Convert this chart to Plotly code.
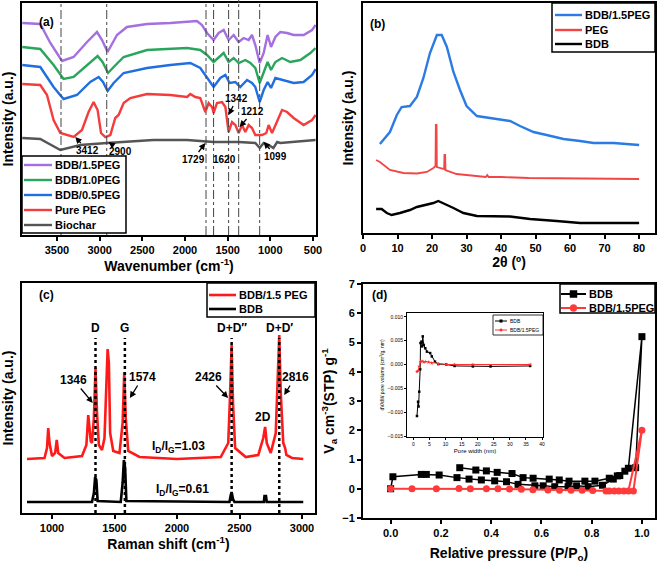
import plotly.graph_objects as go

W, H = 661, 565
FONT = "Liberation Sans"

# ---------------- (a) FTIR ----------------
ftir_15_wn = [3907, 3696, 3578, 3441, 3305, 3148, 3031, 2972, 2907, 2797, 2680, 2445, 2172, 1938, 1860, 1801, 1742, 1665, 1606, 1547, 1489, 1430, 1371, 1313, 1254, 1215, 1176, 1125, 1078, 1032, 992, 941, 883, 804, 727, 610, 511, 470]
ftir_15_i = [212, 211, 192, 174, 178, 193, 203, 195, 183, 200, 208, 211, 212, 213, 214, 210, 202, 195, 202, 205, 195, 200, 193, 197, 195, 200, 190, 172, 182, 200, 188, 198, 203, 202, 200, 200, 205, 210]

ftir_10_wn = [3907, 3696, 3540, 3423, 3305, 3148, 3024, 2966, 2902, 2836, 2719, 2445, 1976, 1821, 1742, 1665, 1606, 1547, 1489, 1430, 1371, 1293, 1234, 1176, 1125, 1078, 1032, 992, 941, 863, 766, 648, 531, 470]
ftir_10_i = [188, 186, 170, 156, 158, 170, 179, 173, 162, 168, 178, 185, 187, 185, 180, 173, 178, 182, 173, 177, 172, 175, 172, 167, 152, 162, 173, 165, 173, 177, 173, 175, 182, 187]

ftir_05_wn = [3907, 3696, 3540, 3423, 3266, 3110, 3012, 2961, 2907, 2836, 2719, 2445, 2172, 1938, 1821, 1742, 1665, 1586, 1527, 1477, 1410, 1352, 1273, 1215, 1176, 1125, 1078, 1032, 992, 941, 844, 727, 610, 511, 470]
ftir_05_i = [170, 168, 148, 136, 140, 153, 158, 153, 144, 152, 162, 167, 170, 172, 167, 158, 148, 157, 160, 152, 153, 148, 155, 152, 148, 133, 145, 153, 147, 157, 155, 152, 153, 160, 166]

ftir_peg_wn = [3907, 3696, 3617, 3540, 3461, 3305, 3207, 3130, 3071, 3024, 2984, 2934, 2875, 2817, 2778, 2719, 2641, 2445, 2172, 1976, 1938, 1879, 1821, 1762, 1723, 1683, 1665, 1625, 1566, 1527, 1489, 1449, 1410, 1371, 1332, 1293, 1254, 1215, 1176, 1097, 1047, 1020, 980, 921, 863, 804, 727, 610, 511, 470]
ftir_peg_i = [151, 150, 140, 115, 102, 98, 105, 123, 133, 125, 102, 98, 100, 117, 120, 132, 137, 141, 140, 138, 141, 138, 137, 123, 132, 128, 122, 132, 133, 128, 103, 113, 110, 102, 110, 103, 110, 107, 100, 100, 102, 110, 102, 113, 125, 123, 117, 110, 115, 120]

ftir_bc_wn = [3907, 3696, 3461, 3227, 2914, 2371, 1976, 1665, 1371, 1176, 1125, 1078, 1020, 964, 920, 883, 470]
ftir_bc_i = [97, 96, 85, 90, 92, 95, 95, 93, 93, 92, 87, 92, 90, 87, 93, 92, 95]

ftir_names = ["BDB/1.5PEG", "BDB/1.0PEG", "BDB/0.5PEG", "Pure PEG", "Biochar"]
ftir_colors = ["#a46fe0", "#2aa55c", "#1f6fe0", "#f43c3c", "#555555"]
ftir_guides = [3453, 2917, 1754, 1665, 1489, 1371, 1125]
ftir_ticks = [3500, 3000, 2500, 2000, 1500, 1000, 500]

# ---------------- (b) XRD ----------------
xrd_peg15_t = [4.9, 7.8, 9.8, 11.2, 13.6, 15.6, 17.5, 19.4, 21.4, 22.8, 24.3, 26.2, 28.1, 30, 33, 36.8, 40.7, 42.6, 45.5, 49.4, 53.2, 58.1, 62.9, 66.8, 72.6, 77.4, 80]
xrd_peg15_i = [89, 101, 118, 126, 127, 136, 155, 180, 198, 198, 186, 161, 143, 127, 117, 115, 113, 112, 107, 101, 98, 94, 92, 90, 90, 89, 88]
xrd_peg_t = [3.8, 4.9, 7.8, 11.7, 15.6, 18.5, 20.4, 21.0, 21.1, 21.3, 21.4, 23.3, 23.5, 23.6, 23.8, 23.9, 27.1, 35.6, 36.0, 36.4, 40.2, 48, 80]
xrd_peg_i = [73, 71, 63, 60, 59.5, 61, 65, 67, 108, 108, 66, 64, 64, 78, 78, 63, 59, 56, 58, 56, 56, 55, 54]
xrd_bdb_t = [3.8, 5.4, 6.9, 8.3, 10.7, 13.6, 15.6, 18.5, 20.4, 21.8, 23.8, 26.2, 29.1, 33, 42.6, 48.4, 56.1, 62.9, 80]
xrd_bdb_i = [24, 24, 20, 18, 20, 23, 26, 28, 30, 32, 29, 25, 20, 17, 16.5, 14, 12, 10, 10]
xrd_names = ["BDB/1.5PEG", "PEG", "BDB"]
xrd_colors = ["#2a7be4", "#f24545", "#000000"]
xrd_ticks = [0, 10, 20, 30, 40, 50, 60, 70, 80]

# ---------------- (c) Raman ----------------
raman_peg_x = [800, 940, 960, 970, 980, 1000, 1025, 1038, 1050, 1100, 1240, 1275, 1290, 1300, 1310, 1320, 1335, 1348, 1360, 1375, 1400, 1420, 1435, 1445, 1455, 1465, 1490, 1540, 1565, 1578, 1590, 1610, 1700, 2000, 2350, 2410, 2425, 2437, 2448, 2465, 2550, 2650, 2690, 2705, 2718, 2750, 2790, 2805, 2818, 2830, 2850, 2865, 2875, 2920, 3010]
raman_peg_i = [54, 55, 65, 85, 70, 57, 60, 73, 60, 55, 57, 68, 98, 80, 72, 70, 95, 145, 100, 68, 63, 75, 140, 164, 150, 80, 62, 60, 90, 141, 95, 62, 56, 54, 56, 70, 120, 168, 110, 65, 56, 58, 75, 86, 70, 60, 80, 130, 178, 120, 70, 65, 58, 55, 54]
raman_bdb_x = [800, 1320, 1335, 1345, 1355, 1365, 1550, 1565, 1575, 1585, 1595, 2420, 2430, 2437, 2448, 2460, 2695, 2700, 2712, 2718, 3010]
raman_bdb_i = [11, 11, 20, 36, 33, 12, 11, 30, 53, 45, 12, 11, 18, 21, 14, 11, 11, 17, 17, 11, 11]
raman_names = ["BDB/1.5 PEG", "BDB"]
raman_colors = ["#ff1a1a", "#000000"]
raman_bands = [1348, 1583, 2437, 2818]
raman_band_names = ["D", "G", "D+D\u2033", "D+D\u2032"]
raman_ticks = [1000, 1500, 2000, 2500, 3000]

# ---------------- (d) N2 isotherm ----------------
bet_bdb_p = [0.0, 0.009, 0.122, 0.142, 0.193, 0.264, 0.312, 0.361, 0.414, 0.461, 0.507, 0.574, 0.607, 0.653, 0.706, 0.740, 0.786, 0.843, 0.886, 0.912, 0.946, 1.0,
             0.975, 0.932, 0.902, 0.870, 0.813, 0.773, 0.710, 0.671, 0.631, 0.567, 0.527, 0.483, 0.424, 0.381, 0.339, 0.275]
bet_bdb_v = [0.0, 0.41, 0.49, 0.49, 0.47, 0.38, 0.33, 0.30, 0.27, 0.24, 0.15, 0.10, 0.10, 0.07, 0.07, 0.10, 0.07, 0.12, 0.33, 0.45, 0.70, 5.2,
             0.72, 0.60, 0.44, 0.36, 0.26, 0.26, 0.26, 0.30, 0.33, 0.36, 0.38, 0.52, 0.56, 0.61, 0.64, 0.72]
bet_peg_p = [0.0, 0.085, 0.182, 0.272, 0.317, 0.381, 0.427, 0.473, 0.52, 0.566, 0.626, 0.672, 0.718, 0.762, 0.804, 0.857, 0.870, 0.89, 0.908, 0.928, 0.946, 1.0, 0.966]
bet_peg_v = [0.0, 0.0, 0.0, 0.01, 0.0, 0.0, 0.0, -0.01, -0.02, -0.03, -0.04, -0.05, -0.05, -0.05, -0.06, -0.08, -0.08, -0.08, -0.08, -0.08, -0.08, 2.0, -0.08]
bet_names = ["BDB", "BDB/1.5PEG"]
bet_colors = ["#000000", "#ff3a3a"]
bet_xticks = [0.0, 0.2, 0.4, 0.6, 0.8, 1.0]
bet_yticks = [-1, 0, 1, 2, 3, 4, 5, 6, 7]

pore_bdb_w = [1.1, 1.45, 1.6, 1.8, 2.1, 2.2, 2.5, 2.7, 2.9, 3.2, 3.7, 4.2, 5.2, 5.7, 6.7, 7.7, 10.2, 12.8, 18.5, 24.0, 36.3]
pore_bdb_v = [-0.0108, -0.0078, -0.0088, -0.0057, -0.001, 0.0045, 0.0048, 0.0038, 0.0059, 0.0041, 0.0034, 0.0027, 0.0024, 0.0017, 0.0006, 0.0001, 0.0, -0.0003, -0.0004, -0.0004, -0.0003]
pore_peg_w = [1.1, 1.45, 1.8, 2.2, 2.7, 3.2, 3.7, 4.7, 5.7, 7.7, 10.2, 12.8, 18.5, 36.3]
pore_peg_v = [-0.0015, -0.0013, -0.0004, 0.0006, 0.0007, 0.0005, 0.0006, 0.0005, 0.0003, 0.0001, 0.0, 0.0, 0.0, 0.0]
pore_xticks = [0, 5, 10, 15, 20, 25, 30, 35, 40]
pore_yticks = [0.010, 0.005, 0.000, -0.005, -0.010, -0.015]


def px_x(p):
    return p / W


def px_y(p):
    return 1 - p / H


fig = go.Figure()

# (a)
for wn, it, nm, col in zip([ftir_15_wn, ftir_10_wn, ftir_05_wn, ftir_peg_wn, ftir_bc_wn],
                           [ftir_15_i, ftir_10_i, ftir_05_i, ftir_peg_i, ftir_bc_i],
                           ftir_names, ftir_colors):
    fig.add_trace(go.Scatter(x=wn, y=it, mode="lines", name=nm, line=dict(color=col, width=2.4),
                             xaxis="x", yaxis="y"))

# (b)
for t, it, nm, col, wd in zip([xrd_peg15_t, xrd_peg_t, xrd_bdb_t], [xrd_peg15_i, xrd_peg_i, xrd_bdb_i],
                              xrd_names, xrd_colors, [2.4, 1.8, 2.4]):
    fig.add_trace(go.Scatter(x=t, y=it, mode="lines", name=nm, line=dict(color=col, width=wd),
                             xaxis="x2", yaxis="y2"))

# (c)
for rx, it, nm, col in zip([raman_peg_x, raman_bdb_x], [raman_peg_i, raman_bdb_i], raman_names, raman_colors):
    fig.add_trace(go.Scatter(x=rx, y=it, mode="lines", name=nm, line=dict(color=col, width=2.6),
                             xaxis="x3", yaxis="y3"))

# (d)
fig.add_trace(go.Scatter(x=bet_bdb_p, y=bet_bdb_v, mode="lines+markers", name=bet_names[0],
                         line=dict(color=bet_colors[0], width=1.5), marker=dict(symbol="square", size=7, color=bet_colors[0]),
                         xaxis="x4", yaxis="y4"))
fig.add_trace(go.Scatter(x=bet_peg_p, y=bet_peg_v, mode="lines+markers", name=bet_names[1],
                         line=dict(color=bet_colors[1], width=2), marker=dict(symbol="circle", size=7, color=bet_colors[1]),
                         xaxis="x4", yaxis="y4"))

# inset
fig.add_trace(go.Scatter(x=pore_bdb_w, y=pore_bdb_v, mode="lines+markers", name=bet_names[0],
                         line=dict(color="black", width=1), marker=dict(symbol="square", size=2.5, color="black"),
                         xaxis="x5", yaxis="y5"))
fig.add_trace(go.Scatter(x=pore_peg_w, y=pore_peg_v, mode="lines+markers", name=bet_names[1],
                         line=dict(color="#ff3030", width=1), marker=dict(symbol="star", size=3, color="#ff3030"),
                         xaxis="x5", yaxis="y5"))

tickfont = dict(family=FONT, size=11, color="black", weight="bold")
titlefont = dict(family=FONT, size=14, color="black", weight="bold")
base = dict(showline=True, linewidth=2, linecolor="black", mirror=True, showgrid=False, zeroline=False,
            ticks="outside", ticklen=4, tickwidth=1.5, tickcolor="black", tickfont=tickfont, automargin=False)
noy = dict(base, ticks="", showticklabels=False)
small = dict(showline=True, linewidth=1, linecolor="black", mirror=True, showgrid=False, zeroline=False,
             ticks="outside", ticklen=2, tickwidth=0.8, tickcolor="black", automargin=False,
             tickfont=dict(family=FONT, size=5, color="black"))

layout = dict(
    width=W, height=H, margin=dict(l=0, r=0, t=0, b=0, autoexpand=False), showlegend=False,
    paper_bgcolor="white", plot_bgcolor="white",
    xaxis=dict(base, domain=[px_x(22), px_x(316)], range=[3910, 465], anchor="y", tickvals=ftir_ticks,
               title=dict(text="Wavenumber (cm<sup>-1</sup>)", font=titlefont, standoff=2)),
    yaxis=dict(noy, domain=[px_y(235), px_y(3)], range=[0, 232], anchor="x",
               title=dict(text="Intensity (a.u.)", font=titlefont, standoff=6)),
    xaxis2=dict(base, domain=[px_x(363), px_x(655)], range=[0, 84.6], anchor="y2", tickvals=xrd_ticks,
                title=dict(text="2\u03b8 (\u00ba)", font=titlefont, standoff=2)),
    yaxis2=dict(noy, domain=[px_y(233), px_y(3)], range=[0, 230], anchor="x2",
                title=dict(text="Intensity (a.u.)", font=titlefont, standoff=4)),
    xaxis3=dict(base, domain=[px_x(22), px_x(315)], range=[760, 3104], anchor="y3", tickvals=raman_ticks,
                title=dict(text="Raman shift (cm<sup>-1</sup>)", font=titlefont, standoff=2)),
    yaxis3=dict(noy, domain=[px_y(513), px_y(283)], range=[0, 230], anchor="x3",
                title=dict(text="Intensity (a.u.)", font=titlefont, standoff=6)),
    xaxis4=dict(base, domain=[px_x(363), px_x(655)], range=[-0.11, 1.052], anchor="y4", tickvals=bet_xticks,
                tickformat=".1f",
                title=dict(text="Relative pressure (P/P<sub>o</sub>)", font=titlefont, standoff=10)),
    yaxis4=dict(base, domain=[px_y(518), px_y(284)], range=[-1, 7], anchor="x4", tickvals=bet_yticks,
                title=dict(text="V<sub>a</sub> cm<sup>-3</sup>(STP) g<sup>-1</sup>", font=titlefont, standoff=4)),
    xaxis5=dict(small, domain=[px_x(407), px_x(543)], range=[-2, 40.3], anchor="y5", tickvals=pore_xticks,
                title=dict(text="Pore width (nm)", font=dict(family=FONT, size=6, color="black"), standoff=2)),
    yaxis5=dict(small, domain=[px_y(437), px_y(313)], range=[-0.0152, 0.0108], anchor="x5", tickvals=pore_yticks,
                tickformat=".3f",
                title=dict(text="dV/dW pore volume (cm<sup>3</sup>/g. nm)", font=dict(family=FONT, size=5, color="black"), standoff=2)),
)
fig.update_layout(**layout)

shapes = []
ann = []
for g in ftir_guides:
    shapes.append(dict(type="line", xref="x", yref="y domain", x0=g, x1=g, y0=0, y1=1,
                       line=dict(color="#444444", width=1, dash="dashdot")))
# guide that runs past the top frame of panel (a)
shapes.append(dict(type="line", xref="x", yref="paper", x0=ftir_guides[5], x1=ftir_guides[5], y0=px_y(3), y1=1,
                   line=dict(color="#444444", width=1)))
for b in raman_bands:
    shapes.append(dict(type="line", xref="x3", yref="y3", x0=b, x1=b, y0=0, y1=175,
                       line=dict(color="black", width=2.5, dash="dot")))


def legend_box(left, top, right, bottom, rows, names, colors, line_x0, line_x1, text_x, fsize,
               markers=None, msize=0, lw=2, bw=1.5):
    shapes.append(dict(type="rect", xref="paper", yref="paper", x0=px_x(left), x1=px_x(right),
                       y0=px_y(bottom), y1=px_y(top), fillcolor="white", line=dict(color="black", width=bw)))
    for i, (ry, nm, col) in enumerate(zip(rows, names, colors)):
        shapes.append(dict(type="line", xref="paper", yref="paper", x0=px_x(line_x0), x1=px_x(line_x1),
                           y0=px_y(ry), y1=px_y(ry), line=dict(color=col, width=lw)))
        if markers:
            cx = (line_x0 + line_x1) / 2
            shapes.append(dict(type=markers[i], xref="paper", yref="paper",
                               x0=px_x(cx - msize / 2), x1=px_x(cx + msize / 2),
                               y0=px_y(ry + msize / 2), y1=px_y(ry - msize / 2),
                               fillcolor=col, line=dict(color=col, width=0.5)))
        ann.append(dict(x=px_x(text_x), y=px_y(ry), xref="paper", yref="paper", text=nm, showarrow=False,
                        xanchor="left", yanchor="middle",
                        font=dict(family=FONT, size=fsize, color="black", weight="bold" if fsize > 6 else "normal")))


legend_box(22, 156, 126, 233, [165, 180, 195, 210, 225], ftir_names, ftir_colors, 24, 52, 53, 11, lw=2.4)
legend_box(552, 3, 655, 52, [15, 30, 44], xrd_names, xrd_colors, 555, 582, 583, 11, lw=2.4)
legend_box(207, 283, 315, 317, [295, 309], raman_names, raman_colors, 209, 236, 237, 11, lw=2.6)
legend_box(560, 284, 655, 313, [294, 308], bet_names, bet_colors, 561, 586, 587, 11,
           markers=["rect", "circle"], msize=7)
legend_box(493, 315, 543, 335, [321, 330], bet_names, ["#000000", "#ff3030"], 495, 507, 507.5, 5,
           markers=["rect", "circle"], msize=2.5, lw=1, bw=0.8)

afont = dict(family=FONT, size=10, color="black", weight="bold")
# (a) peak labels: (wavenumber, intensity, text, ax, ay)
ftir_labels = [(3286, 98, "3412", 12, 13), (2895, 93, "2900", 12, 9), (1762, 92, "1729", -12, 16),
               (1665, 93, "1620", 11, 17), (1078, 93, "1099", 12, 14), (1489, 120, "1342", 8, -16),
               (1360, 108, "1212", 13, -15)]
for x, y, t, ax, ay in ftir_labels:
    ann.append(dict(x=x, y=y, xref="x", yref="y", text=t, showarrow=True, ax=ax, ay=ay, arrowhead=2,
                    arrowsize=1, arrowwidth=1.3, arrowcolor="black", font=afont, standoff=0))
cfont = dict(family=FONT, size=12, color="black", weight="bold")
for b, nm in zip(raman_bands, raman_band_names):
    ann.append(dict(x=b, y=185, xref="x3", yref="y3", text=nm, showarrow=False, font=cfont))
raman_labels = [(1326, 110, "1346", -19, -23), (1623, 115, "1574", 13, -21), (2409, 115, "2426", -20, -21),
                (2858, 118, "2816", 11, -18)]
for x, y, t, ax, ay in raman_labels:
    ann.append(dict(x=x, y=y, xref="x3", yref="y3", text=t, showarrow=True, ax=ax, ay=ay, arrowhead=2,
                    arrowsize=1, arrowwidth=1.3, arrowcolor="black", font=cfont, standoff=0))
ann.append(dict(x=2689, y=96, xref="x3", yref="y3", text="2D", showarrow=False, font=cfont))
ann.append(dict(x=2008, y=66, xref="x3", yref="y3", text="I<sub>D</sub>/I<sub>G</sub>=1.03", showarrow=False, font=cfont))
ann.append(dict(x=2040, y=23, xref="x3", yref="y3", text="I<sub>D</sub>/I<sub>G</sub>=0.61", showarrow=False, font=cfont))
pfont = dict(family=FONT, size=12, color="black", weight="bold")
for t, x, y in [("(a)", 37, 13), ("(b)", 377, 15), ("(c)", 37, 295), ("(d)", 380, 295)]:
    ann.append(dict(x=px_x(x), y=px_y(y), xref="paper", yref="paper", text=t, showarrow=False, font=pfont))

fig.update_layout(shapes=shapes, annotations=ann)

fig.write_html("out.html", config={"displayModeBar": False},
               post_script="document.body.style.margin='0';document.body.style.padding='0';document.body.style.overflow='hidden';")
